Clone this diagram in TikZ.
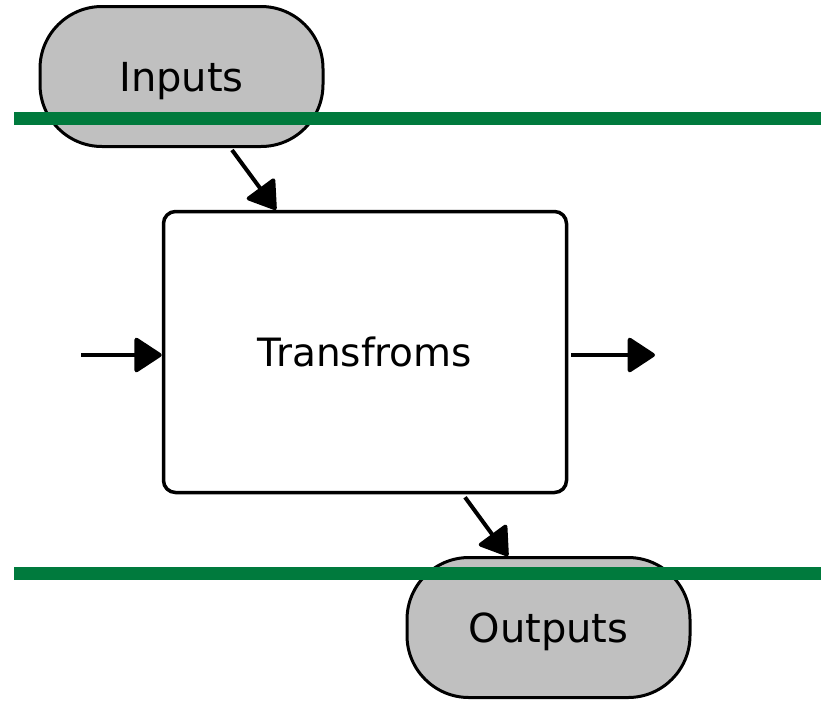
\documentclass[tikz,border=0pt]{standalone}
\usepackage{fontspec}
\setmainfont{DejaVu Sans}
\usetikzlibrary{arrows.meta}
\definecolor{pillgray}{RGB}{192,192,192}
\definecolor{lanegreen}{RGB}{0,122,61}
\tikzset{
  pill/.style={draw=black, line width=3pt, fill=pillgray, rounded corners=62pt,
    minimum width=283pt, minimum height=140pt, inner sep=0pt, text depth=0pt,
    font=\fontsize{40pt}{44pt}\selectfont},
  procbox/.style={draw=black, line width=3.5pt, fill=white, rounded corners=12pt,
    minimum width=403pt, minimum height=281pt, inner sep=0pt,
    font=\fontsize{39pt}{44pt}\selectfont},
  arr/.style={line width=4pt, -{Triangle[length=29pt,width=37pt,round]}},
  lane/.style={draw=lanegreen, line width=13pt}
}
\begin{document}
\begin{tikzpicture}[x=1pt,y=-1pt]
\useasboundingbox (0,0) rectangle (821,702);
\node[pill] (in) at (181.5,76.5) {Inputs};
\node[procbox] (tr) at (365,352) {Transfroms};
\node[pill] (out) at (548.5,627.5) {Outputs};
\coordinate (l1a) at (14,118.5);
\coordinate (l1b) at (821,118.5);
\coordinate (l2a) at (14,573);
\coordinate (l2b) at (821,573);
\draw[lane] (l1a) -- (l1b);
\draw[lane] (l2a) -- (l2b);
\coordinate (src) at (81,355);
\coordinate (dst) at (655,355);
\draw[arr] ([xshift=50.5pt,yshift=-2pt]in.south) -- ([xshift=-89pt]tr.north);
\draw[arr] (src) -- (tr.west |- src);
\draw[arr] ([xshift=3pt]tr.east |- dst) -- (dst);
\draw[arr] ([xshift=100pt,yshift=-3pt]tr.south) -- ([xshift=-40.5pt]out.north);
\end{tikzpicture}
\end{document}
